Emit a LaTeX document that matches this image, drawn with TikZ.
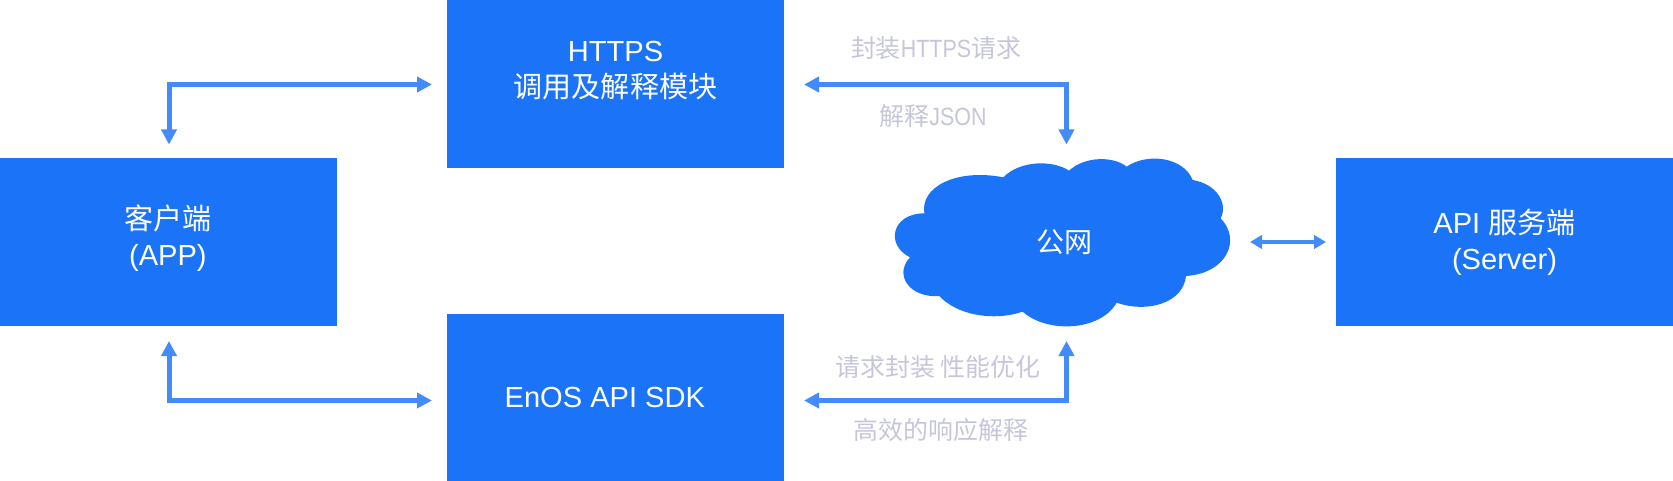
\documentclass[tikz,border=0pt]{standalone}
\usepackage{fontspec}
\setmainfont{Liberation Sans}
\newfontfamily\cjk{Noto Sans CJK SC}
\newfontfamily\narrowlat[FakeStretch=0.86]{Liberation Sans}
\usetikzlibrary{arrows.meta}
\definecolor{boxblue}{RGB}{27,115,248}
\definecolor{arrowblue}{RGB}{68,139,250}
\definecolor{labelgrey}{RGB}{198,198,218}
\newcommand{\cn}[1]{{\cjk #1}}
\newcommand{\lat}[1]{{\narrowlat #1}}
\newcommand{\stack}[3]{\hspace*{#1}\raisebox{#2}[\height][\depth]{\begin{tabular}{@{}c@{}}#3\end{tabular}}}
\tikzset{
  x=0.75pt,y=-0.75pt,
  bluebox/.style={fill=boxblue,text=white,minimum width=252.75pt,minimum height=126pt,inner sep=0pt,outer sep=0pt,
    font=\fontsize{21.8pt}{27.5pt}\selectfont},
  flowlabel/.style={text=labelgrey,inner sep=0pt,font=\fontsize{18.7pt}{22pt}\selectfont},
  cloudtext/.style={text=white,inner sep=0pt,font=\fontsize{21pt}{26pt}\selectfont},
  link/.style={draw=arrowblue,line width=3.75pt,miter limit=10,
    arrows={Triangle[length=11.25pt,width=11.25pt,fill=arrowblue]-Triangle[length=11.25pt,width=11.25pt,fill=arrowblue]}},
  thinlink/.style={draw=arrowblue,line width=3pt,
    arrows={Triangle[length=9pt,width=10pt,fill=arrowblue]-Triangle[length=9pt,width=10pt,fill=arrowblue]}},
}
\begin{document}
\begin{tikzpicture}
\useasboundingbox (0,0) rectangle (1673,481);
% boxes
\node[bluebox] (client) at (168.5,242) {\stack{-1pt}{1.3pt}{\cn{客户端}\\(APP)}};
\node[bluebox] (https) at (615.5,84) {\stack{0pt}{8.8pt}{HTTPS\\\cn{调用及解释模块}}};
\node[bluebox] (sdk) at (615.5,397.5) {EnOS API SDK\hspace*{16pt}};
\node[bluebox] (server) at (1504.5,242) {\stack{0pt}{-1.6pt}{API \cn{服务端}\\(Server)}};
% cloud
\begin{scope}[shift={(830,0)},x=0.25pt,y=-0.25pt]
\fill[boxblue] (283,640)
  .. controls (270,560) and (380,505) .. (520,532)
  .. controls (570,480) and (670,480) .. (717,512)
  .. controls (765,468) and (850,468) .. (890,500)
  .. controls (950,458) and (1060,470) .. (1088,540)
  .. controls (1160,552) and (1195,610) .. (1172,655)
  .. controls (1235,720) and (1190,820) .. (1068,828)
  .. controls (1060,910) and (950,940) .. (860,908)
  .. controls (810,995) and (650,1000) .. (578,935)
  .. controls (490,965) and (380,945) .. (328,888)
  .. controls (240,895) and (190,825) .. (240,772)
  .. controls (165,735) and (185,640) .. (283,640)
  -- cycle;
\end{scope}
\node[cloudtext] (cloud) at (1064,242) {\cn{公网}};
% free ends
\coordinate (c1) at (169,84.5);
\coordinate (clienttop) at (169,144.5);
\coordinate (httpsin) at (432,84.5);
\coordinate (c2) at (169,400.5);
\coordinate (clientbot) at (169,341);
\coordinate (sdkin) at (432,400.5);
\coordinate (c3) at (1066.5,84.5);
\coordinate (cloudtop) at (1066.5,144.5);
\coordinate (httpsout) at (804,84.5);
\coordinate (c4) at (1066.5,400.5);
\coordinate (cloudbot) at (1066.5,341);
\coordinate (sdkout) at (804,400.5);
\coordinate (cloudright) at (1250,242);
\coordinate (serverleft) at (1326,242);
% connectors
\draw[link] (clienttop) -- (c1) -- (httpsin);
\draw[link] (clientbot) -- (c2) -- (sdkin);
\draw[link] (httpsout) -- (c3) -- (cloudtop);
\draw[link] (sdkout) -- (c4) -- (cloudbot);
\draw[thinlink] (cloudright) -- (serverleft);
% labels
\node[flowlabel] (l1) at (936,48) {\cn{封装}\lat{HTTPS}\cn{请求}};
\node[flowlabel] (l2) at (933,116) {\cn{解释}\lat{JSON}};
\node[flowlabel] (l3) at (938,367) {\cn{请求封装 性能优化}};
\node[flowlabel] (l4) at (941,430) {\cn{高效的响应解释}};
\end{tikzpicture}
\end{document}
